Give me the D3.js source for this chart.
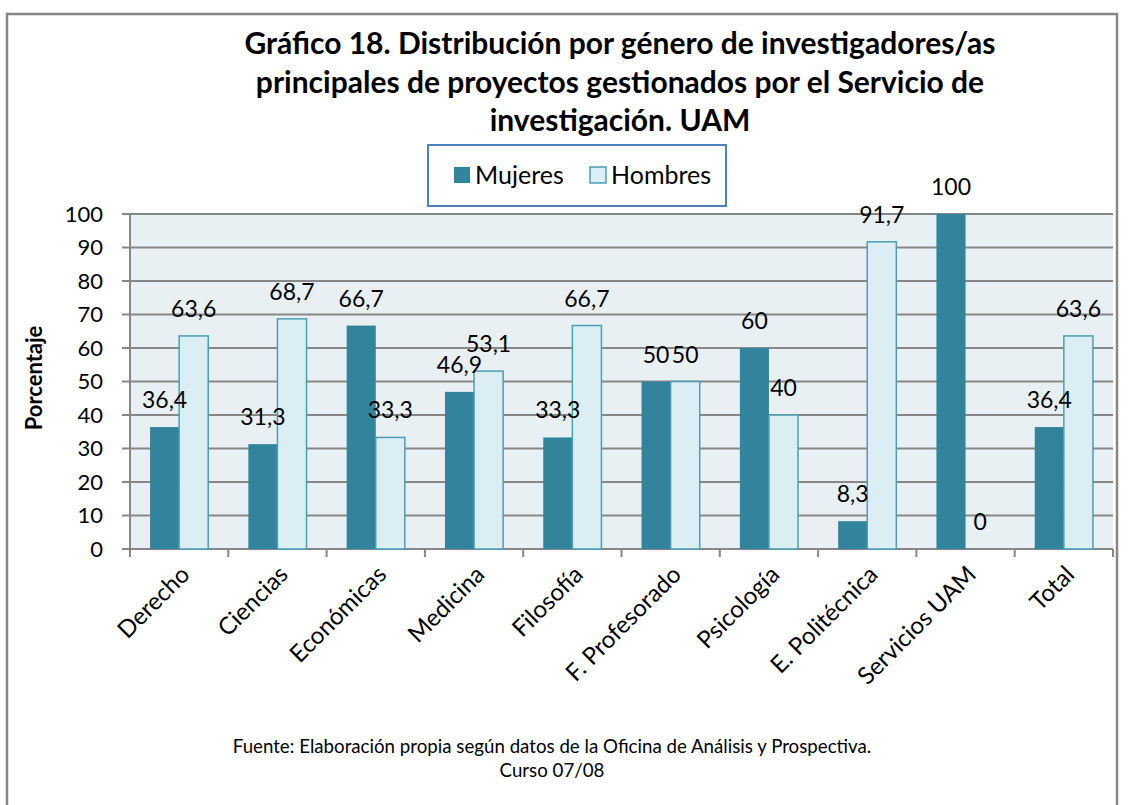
<!DOCTYPE html>
<html><head><meta charset="utf-8">
<script src="https://cdn.jsdelivr.net/npm/d3@7"></script>
<style>
body{margin:0;background:#fff;}
text{font-family:Lato,"Open Sans",sans-serif;fill:#000;}
</style></head>
<body><svg id="c" width="1129" height="805"></svg>
<script>
const categories = ["Derecho","Ciencias","Económicas","Medicina","Filosofía","F. Profesorado","Psicología","E. Politécnica","Servicios UAM","Total"];
const mujeres = [36.4,31.3,66.7,46.9,33.3,50,60,8.3,100,36.4];
const hombres = [63.6,68.7,33.3,53.1,66.7,50,40,91.7,0,63.6];
const seriesNames = ["Mujeres","Hombres"];
const yTicks = [0,10,20,30,40,50,60,70,80,90,100];
const titleLines = ["Gráfico 18. Distribución por género de investigadores/as","principales de proyectos gestionados por el Servicio de","investigación. UAM"];
const footerLines = ["Fuente: Elaboración propia según datos de la Oficina de Análisis y Prospectiva.","Curso 07/08"];
const yTitle = "Porcentaje";

const colM = "#31849B", colH = "#DAEEF3", colHStroke = "#4A9FB5";
const svg = d3.select("#c");

svg.append("rect").attr("x",7).attr("y",14).attr("width",1110).attr("height",800)
  .attr("fill","#fff").attr("stroke","#878787").attr("stroke-width",2.5);

const L=130, R=1113, T=214, B=549;
const x = d3.scaleBand().domain(categories).range([L,R]).paddingInner(0).paddingOuter(0);
const x1 = d3.scaleBand().domain(seriesNames).range([0,x.bandwidth()]).paddingInner(0).paddingOuter(0.69);
const y = d3.scaleLinear().domain([0,100]).range([B,T]);

svg.append("rect").attr("x",L).attr("y",T).attr("width",R-L).attr("height",B-T).attr("fill","#E9F0F3");

svg.append("g").selectAll("line").data(yTicks).join("line")
  .attr("x1",L-8).attr("x2",R).attr("y1",d=>y(d)).attr("y2",d=>y(d))
  .attr("stroke","#878787").attr("stroke-width",2);

svg.append("line").attr("x1",L).attr("x2",L).attr("y1",T).attr("y2",B+8).attr("stroke","#878787").attr("stroke-width",2);
const bounds = categories.map(c=>x(c)).concat([R]);
svg.append("g").selectAll("line").data(bounds).join("line")
  .attr("x1",d=>d).attr("x2",d=>d).attr("y1",B).attr("y2",B+8)
  .attr("stroke","#878787").attr("stroke-width",2);

svg.append("g").selectAll("text").data(yTicks).join("text")
  .attr("x",L-27).attr("y",d=>y(d)).attr("dy","0.35em").attr("text-anchor","end")
  .style("font-size","22px").text(d=>d);

const data = categories.map((c,i)=>({c, vals:[mujeres[i],hombres[i]]}));
const fmt = v => String(v).replace(".",",");

const g = svg.append("g").selectAll("g").data(data).join("g").attr("transform",d=>`translate(${x(d.c)},0)`);
g.selectAll("rect").data(d=>d.vals.map((v,k)=>({v,k}))).join("rect")
  .attr("x",d=>x1(seriesNames[d.k])).attr("width",x1.bandwidth())
  .attr("y",d=>y(d.v)).attr("height",d=>y(0)-y(d.v))
  .attr("fill",d=>d.k===0?colM:colH)
  .attr("stroke",d=>d.k===0?"none":colHStroke).attr("stroke-width",1.5);
g.selectAll("text").data(d=>d.vals.map((v,k)=>({v,k}))).join("text")
  .attr("x",d=>x1(seriesNames[d.k])+x1.bandwidth()/2).attr("y",d=>y(d.v)-19)
  .attr("text-anchor","middle").style("font-size","23px").text(d=>fmt(d.v));

svg.append("g").selectAll("text").data(categories).join("text")
  .attr("transform",c=>`translate(${x(c)+x.bandwidth()/2+12},${B+27}) rotate(-45)`)
  .attr("text-anchor","end").style("font-size","24px").text(c=>c);

titleLines.forEach((t,i)=>{
  svg.append("text").attr("x",620).attr("y",54+i*38.5).attr("text-anchor","middle")
    .style("font-size","30px").style("font-weight","bold").text(t);
});

svg.append("rect").attr("x",428).attr("y",145).attr("width",298).attr("height",61)
  .attr("fill","#fff").attr("stroke","#4F81BD").attr("stroke-width",2);
const legX=[454,590];
seriesNames.forEach((s,k)=>{
  svg.append("rect").attr("x",legX[k]).attr("y",167).attr("width",16).attr("height",16)
    .attr("fill",k===0?colM:colH).attr("stroke",k===0?"none":colHStroke).attr("stroke-width",1.5);
  svg.append("text").attr("x",legX[k]+21).attr("y",184).style("font-size","25px").text(s);
});

svg.append("text").attr("transform","translate(42,378) rotate(-90)").attr("text-anchor","middle")
  .style("font-size","22px").style("font-weight","bold").text(yTitle);

footerLines.forEach((t,i)=>{
  svg.append("text").attr("x",552).attr("y",753+i*24).attr("text-anchor","middle")
    .style("font-size","18.7px").text(t);
});
</script></body></html>
